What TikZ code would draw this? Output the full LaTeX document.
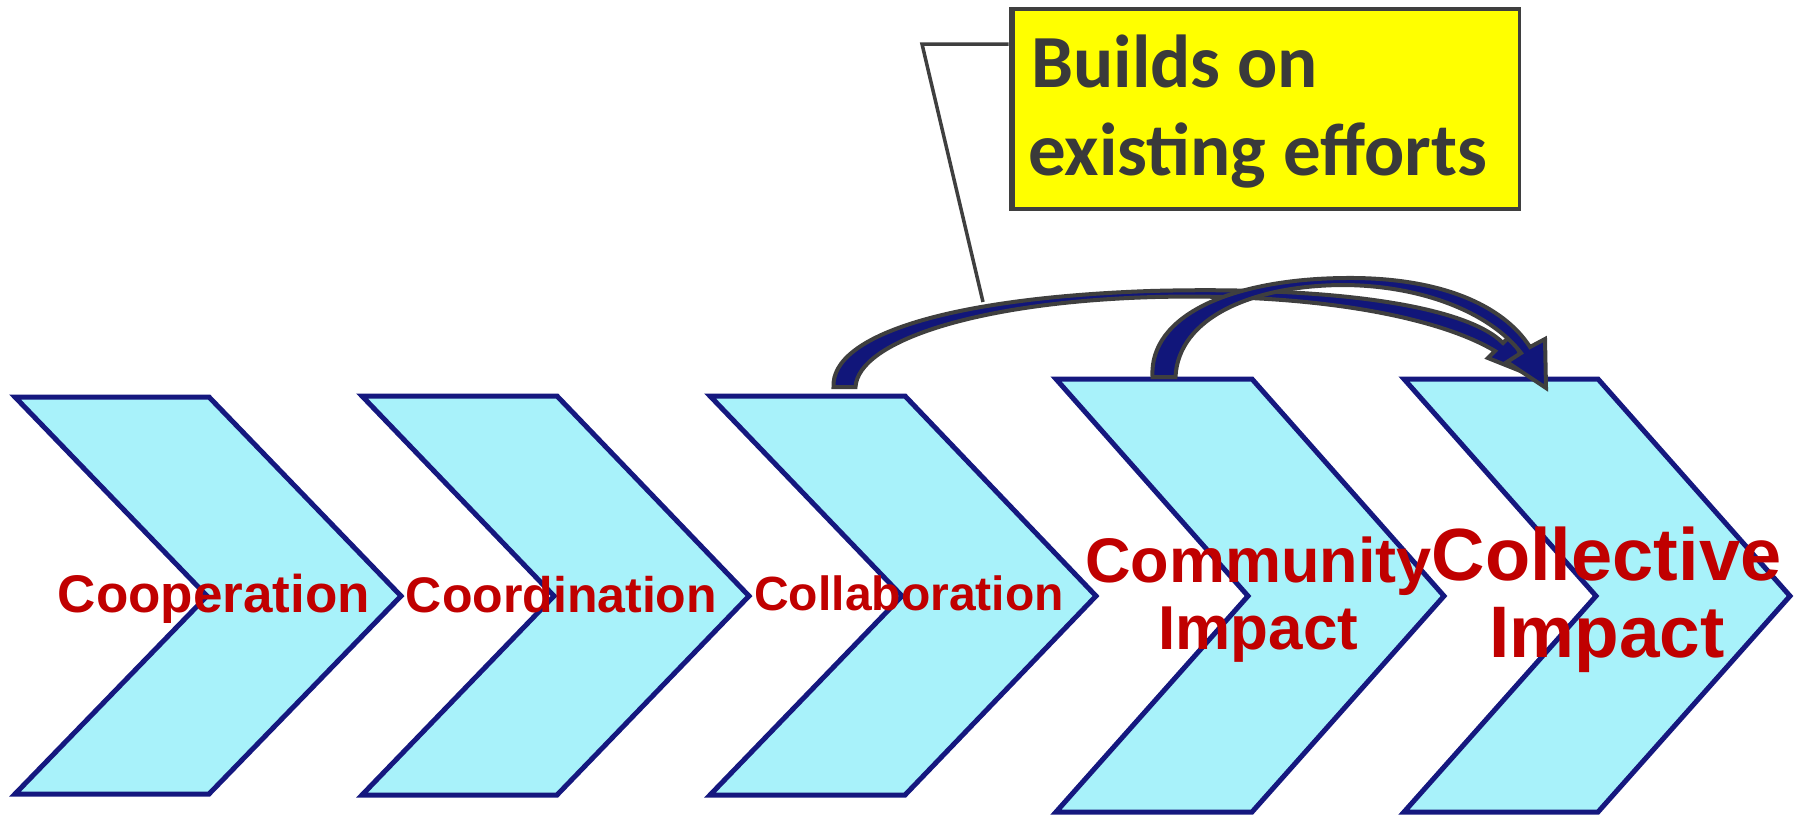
\documentclass[tikz,border=0pt]{standalone}
\usepackage{fontspec}
\setmainfont{Liberation Sans}
\newfontfamily\calfont{Carlito}
\definecolor{chevfill}{HTML}{A8F2FA}
\definecolor{chevline}{HTML}{15187F}
\definecolor{labelred}{HTML}{C00000}
\definecolor{arrownavy}{HTML}{11167A}
\definecolor{outlinegray}{HTML}{3F3F3F}
\definecolor{calloutyellow}{HTML}{FFFF00}
\definecolor{callouttext}{HTML}{3A3A3A}
\begin{document}
\begin{tikzpicture}[x=1pt,y=-1pt,
  chev/.style={draw=chevline, fill=chevfill, line width=5pt, line join=miter},
  arrowshape/.style={draw=outlinegray, fill=arrownavy, line width=4pt, line join=miter},
  lbl/.style={text=labelred, anchor=base, inner sep=0pt},
  callbox/.style={draw=outlinegray, fill=calloutyellow, line width=3.5pt, anchor=north west, inner sep=0pt, minimum width=509pt, minimum height=200pt},
  calltext/.style={text=callouttext, anchor=base west, inner sep=0pt, font={\calfont\bfseries\fontsize{75}{88}\selectfont}},
  leader/.style={draw=outlinegray, line width=3.5pt}]
\useasboundingbox (0,0) rectangle (1800,815);

% chevrons
\draw[chev] (15,397) -- (209,397) -- (401,596) -- (209,794) -- (15,794) -- (207,596) -- cycle;
\draw[chev] (362,396) -- (557,396) -- (749,596) -- (557,795) -- (362,795) -- (554,596) -- cycle;
\draw[chev] (710,396) -- (905,396) -- (1096,596) -- (905,795) -- (710,795) -- (902,596) -- cycle;
\draw[chev] (1056,379) -- (1252,379) -- (1444,596) -- (1252,812) -- (1056,812) -- (1248,596) -- cycle;
\draw[chev] (1404,379) -- (1598,379) -- (1790,596) -- (1598,812) -- (1404,812) -- (1596,596) -- cycle;

% labels
\node[lbl, font={\bfseries\fontsize{53}{60}\selectfont}] (coop) at (214,612) {Cooperation};
\node[lbl, font={\bfseries\fontsize{50}{58}\selectfont}] (coord) at (561.5,612) {Coordination};
\node[lbl, font={\bfseries\fontsize{48}{56}\selectfont}] (collab) at (909,610) {Collaboration};
\node[lbl, font={\bfseries\fontsize{63}{70}\selectfont}] (commA) at (1258.5,582) {Community};
\node[lbl, font={\bfseries\fontsize{62}{70}\selectfont}] (commB) at (1258.5,649) {Impact};
\node[lbl, font={\bfseries\fontsize{74}{80}\selectfont}] (collA) at (1606.5,580) {Collective};
\node[lbl, font={\bfseries\fontsize{73}{80}\selectfont}] (collB) at (1607,657) {Impact};

% curved arrows
\draw[arrowshape] (833.5,387) .. controls (831,335) and (950,298) .. (1150,291)
  .. controls (1330,286) and (1465,305) .. (1503,343) -- (1512,334) -- (1528,374) -- (1488,358) -- (1495,351)
  .. controls (1440,318) and (1320,293) .. (1155,297)
  .. controls (975,302) and (858,342) .. (855.5,387) -- cycle;
\draw[arrowshape] (1152.5,377) .. controls (1149,315) and (1232,279) .. (1345,278)
  .. controls (1440,277) and (1503,305) .. (1530,347) -- (1545,339) -- (1546,388) -- (1507,362) -- (1521,353)
  .. controls (1494,317) and (1430,286) .. (1345,285)
  .. controls (1252,285) and (1178,318) .. (1175.5,377) -- cycle;

% callout
\node[callbox] (callout) at (1008.5,7) {};
\draw[draw=outlinegray, line width=2.5pt] (callout.north west) ++(5,0) coordinate (accTop) -- (accTop |- callout.south west);
\coordinate (elbow) at (922,44);
\coordinate (leadend) at (983,302);
\draw[leader] (elbow -| callout.west) -- (elbow) -- (leadend);
\node[calltext] (callA) at (1031,87) {Builds on};
\node[calltext] (callB) at (1028,175) {existing efforts};
\end{tikzpicture}
\end{document}
